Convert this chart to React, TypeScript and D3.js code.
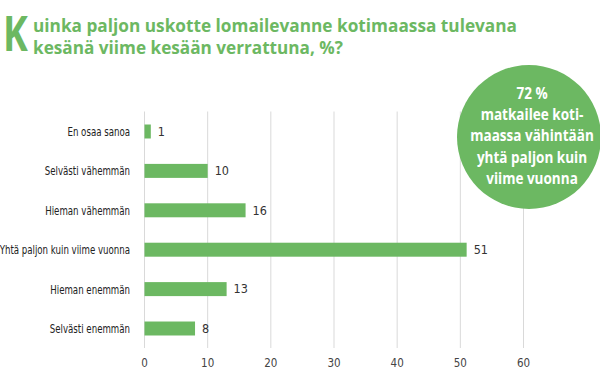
import React from "react";
import * as d3 from "d3";

const categories = [
  "En osaa sanoa",
  "Selvästi vähemmän",
  "Hieman vähemmän",
  "Yhtä paljon kuin viime vuonna",
  "Hieman enemmän",
  "Selvästi enemmän",
];
const values = [1, 10, 16, 51, 13, 8];
const xTicks = [0, 10, 20, 30, 40, 50, 60];
const titleLines = [
  "uinka paljon uskotte lomailevanne kotimaassa tulevana",
  "kesänä viime kesään verrattuna, %?",
];
const circleLines = ["72 %", "matkailee koti-", "maassa vähintään", "yhtä paljon kuin", "viime vuonna"];

const GREEN = "#6cb862";
const W = 600;
const H = 382;

export default function App() {
  const x = d3.scaleLinear().domain([0, 60]).range([144.5, 523.5]);
  const y = d3
    .scaleBand<string>()
    .domain(categories)
    .range([111.5, 348.5])
    .paddingInner(0.645)
    .paddingOuter(0.33);
  const bw = y.bandwidth();
  const labelFont = "'DejaVu Sans Condensed', 'DejaVu Sans', sans-serif";
  const circleFont = "'Open Sans', 'Noto Sans', sans-serif";
  return (
    <div style={{ position: "fixed", left: 0, top: 0, width: W, height: H, background: "#fff" }}>
      <svg width={W} height={H} style={{ display: "block" }}>
        <rect width={W} height={H} fill="#fff" />
        {/* title */}
        <text
          transform="translate(3,51) scale(0.78,1)"
          fontFamily={circleFont}
          fontWeight={700}
          fontSize={48}
          fill={GREEN}
        >
          K
        </text>
        {titleLines.map((t, i) => (
          <text
            key={t}
            x={33}
            y={31.5 + i * 22}
            fontFamily={circleFont}
            fontWeight={700}
            fontSize={18.5}
            fill={GREEN}
            textLength={i === 0 ? 484 : 310}
            lengthAdjust="spacingAndGlyphs"
          >
            {t}
          </text>
        ))}
        {/* grid */}
        {xTicks.map((t) => (
          <g key={t}>
            <line x1={x(t)} x2={x(t)} y1={111.5} y2={348} stroke="#d9d9d9" strokeWidth={1} />
            <text
              x={x(t)}
              y={367}
              textAnchor="middle"
              fontFamily={labelFont}
              fontSize={11.5}
              fill="#444"
            >
              {t}
            </text>
          </g>
        ))}
        {/* bars */}
        {categories.map((c, i) => {
          const yy = y(c)!;
          return (
            <g key={c}>
              <rect x={x(0)} y={yy} width={x(values[i]) - x(0)} height={bw} fill={GREEN} />
              <text
                transform={`translate(130,${yy + bw / 2}) scale(0.75,1)`}
                dy="0.35em"
                textAnchor="end"
                fontFamily={labelFont}
                fontSize={12.8}
                fill="#222"
              >
                {c}
              </text>
              <text
                x={x(values[i]) + 7}
                y={yy + bw / 2}
                dy="0.35em"
                fontFamily={labelFont}
                fontSize={12.5}
                fill="#333"
              >
                {values[i]}
              </text>
            </g>
          );
        })}
        {/* circle */}
        <circle cx={529} cy={137} r={72} fill={GREEN} />
        {circleLines.map((t, i) => (
          <text
            key={t}
            transform={`translate(532,${93 + i * 21.3}) scale(0.82,1)`}
            dy="0.35em"
            textAnchor="middle"
            fontFamily={circleFont}
            fontWeight={700}
            fontSize={16.5}
            fill="#fff"
          >
            {t}
          </text>
        ))}
      </svg>
    </div>
  );
}
